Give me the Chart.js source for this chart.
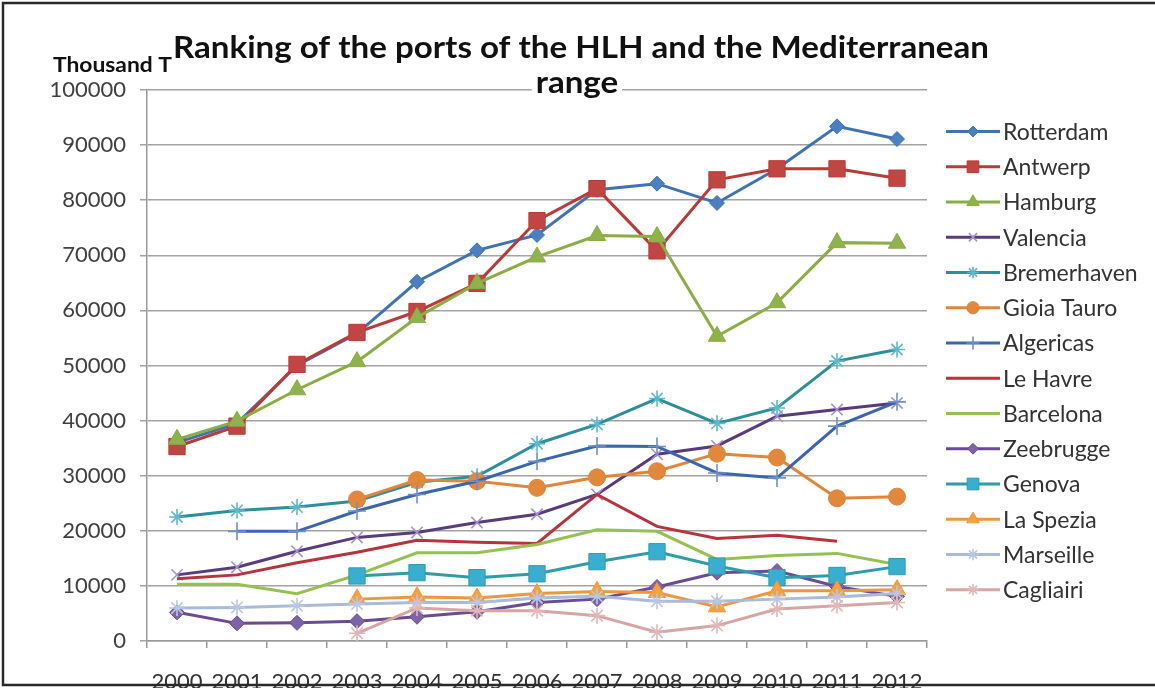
<!DOCTYPE html>
<html><head><meta charset="utf-8">
<script src="https://cdn.jsdelivr.net/npm/chart.js@4.4.0/dist/chart.umd.min.js"></script>
<style>html,body{margin:0;padding:0;background:#fff;overflow:hidden}#wrap{width:1155px;height:688px;position:relative}</style>
</head><body><div id="wrap"><canvas id="c" width="1155" height="688"></canvas></div>
<script>
// ---- data (thousand tonnes) ----
const years = ['2000','2001','2002','2003','2004','2005','2006','2007','2008','2009','2010','2011','2012'];
const yTickValues = [0,10000,20000,30000,40000,50000,60000,70000,80000,90000,100000];
const titleLines = ['Ranking of the ports of the HLH and the Mediterranean', 'range'];
const yAxisTitle = 'Thousand T';
const portNames = ['Rotterdam','Antwerp','Hamburg','Valencia','Bremerhaven','Gioia Tauro','Algericas','Le Havre','Barcelona','Zeebrugge','Genova','La Spezia','Marseille','Cagliairi'];

const rotterdam   = [36000, 39500, 50000, 55800, 65200, 70900, 73700, 81900, 83000, 79500, 85700, 93400, 91100];
const antwerp     = [35300, 39000, 50200, 56000, 59800, 64900, 76300, 82100, 70800, 83700, 85700, 85700, 84000];
const hamburg     = [36600, 39900, 45600, 50700, 58700, 64900, 69700, 73600, 73400, 55300, 61400, 72300, 72200];
const valencia    = [12000, 13400, 16300, 18800, 19700, 21500, 23000, 26600, 33900, 35400, 40800, 42000, 43200];
const bremerhaven = [22500, 23700, 24300, 25400, 28800, 29900, 35800, 39300, 44000, 39500, 42300, 50800, 52900];
const gioiaTauro  = [null, null, null, 25700, 29200, 29000, 27800, 29700, 30800, 34000, 33300, 25900, 26200];
const algericas   = [null, 19900, 19900, 23600, 26600, 29000, 32600, 35400, 35300, 30500, 29600, 39000, 43400];
const leHavre     = [11300, 12000, 14200, 16100, 18300, 17900, 17700, 26600, 20800, 18600, 19200, 18100, null];
const barcelona   = [10300, 10300, 8600, 12000, 16000, 16000, 17500, 20200, 19900, 14800, 15500, 15900, 13900];
const zeebrugge   = [5200, 3200, 3300, 3600, 4400, 5300, 7000, 7600, 9800, 12400, 12700, 9900, 8100];
const genova      = [null, null, null, 11800, 12400, 11500, 12200, 14400, 16200, 13600, 11500, 11900, 13500];
const laSpezia    = [null, null, null, 7600, 8000, 7800, 8600, 9000, 8800, 6200, 9100, 9100, 9300];
const marseille   = [6000, 6100, 6400, 6700, 7000, 7000, 7800, 8100, 7200, 7200, 7600, 8000, 8600];
const cagliairi   = [null, null, null, 1400, 6000, 5500, 5500, 4600, 1600, 2800, 5800, 6400, 7000];

const seriesValues = [rotterdam, antwerp, hamburg, valencia, bremerhaven, gioiaTauro, algericas, leHavre, barcelona, zeebrugge, genova, laSpezia, marseille, cagliairi];

// ---- styles ----
const styles = [
  {line:'#4073b4', fill:'#4a7fc0', marker:'rectRot',  r:7.5},
  {line:'#b93a37', fill:'#bf4643', marker:'rect',     r:11.5},
  {line:'#8aad44', fill:'#8fb34c', marker:'triangle', r:10},
  {line:'#583c7e', fill:'#a692c9', marker:'crossRot', r:8},
  {line:'#2e8f9c', fill:'#5cb8cc', marker:'star',     r:8},
  {line:'#e2853c', fill:'#e2883d', marker:'circle',   r:8.5},
  {line:'#3a66b0', fill:'#6f90c9', marker:'cross',    r:9},
  {line:'#b9323c', fill:'#b9323c', marker:false,      r:0},
  {line:'#94c251', fill:'#94c251', marker:false,      r:0},
  {line:'#6b4b94', fill:'#7d63a8', marker:'rectRot',  r:7.5},
  {line:'#2f9caa', fill:'#3aaed0', marker:'rect',     r:11.5},
  {line:'#f0973c', fill:'#f6a13f', marker:'triangle', r:10},
  {line:'#a9badc', fill:'#b9c7e5', marker:'star',     r:8},
  {line:'#d9a4a4', fill:'#e4b6b6', marker:'star',     r:8}
];

const FONT = 'Lato, "Open Sans", "DejaVu Sans", sans-serif';
const N = portNames.length;

const datasets = portNames.map((name, i) => {
  const s = styles[i];
  const thin = (s.marker === 'crossRot' || s.marker === 'star' || s.marker === 'cross');
  return {
    label: name,
    data: seriesValues[i],
    borderColor: s.line,
    backgroundColor: s.fill,
    borderWidth: 3,
    tension: 0,
    spanGaps: false,
    pointStyle: s.marker,
    pointRadius: s.r,
    pointHoverRadius: s.r,
    pointBackgroundColor: s.fill,
    pointBorderColor: thin ? s.fill : s.line,
    pointBorderWidth: thin ? 1.6 : 1,
    order: N - i
  };
});

// draw text horizontally scaled
function scaledText(ctx, text, size, weight, cx, y, scaleX, align) {
  ctx.save();
  ctx.font = weight + ' ' + size + 'px ' + FONT;
  ctx.textAlign = align;
  ctx.translate(cx, y);
  ctx.scale(scaleX, 1);
  ctx.fillText(text, 0, 0);
  ctx.restore();
}
function widthAt(ctx, text, size, weight) {
  ctx.save();
  ctx.font = weight + ' ' + size + 'px ' + FONT;
  const w = ctx.measureText(text).width;
  ctx.restore();
  return w;
}

const decor = {
  id: 'decor',
  beforeDraw(chart) {
    const ctx = chart.ctx;
    ctx.save();
    ctx.fillStyle = '#ffffff';
    ctx.fillRect(0, 0, chart.width, chart.height);
    ctx.restore();
  },
  afterDraw(chart) {
    const ctx = chart.ctx;
    ctx.save();
    ctx.textBaseline = 'alphabetic';
    // title
    const tSize = 30;
    const w1 = widthAt(ctx, titleLines[0], tSize, 'bold');
    const sx = w1 > 0 ? 816 / w1 : 1;
    ctx.fillStyle = '#111111';
    scaledText(ctx, titleLines[0], tSize, 'bold', 581, 58, sx, 'center');
    const rw = widthAt(ctx, titleLines[1], tSize, 'bold') * sx;
    ctx.fillStyle = '#ffffff';
    ctx.fillRect(577 - rw / 2 - 4, 76, rw + 8, 26);
    ctx.fillStyle = '#111111';
    scaledText(ctx, titleLines[1], tSize, 'bold', 577, 93, sx, 'center');
    // y axis title
    const aSize = 21;
    const wa = widthAt(ctx, yAxisTitle, aSize, 'bold');
    const sa = wa > 0 ? 119 / wa : 1;
    scaledText(ctx, yAxisTitle, aSize, 'bold', 53, 72, sa, 'left');
    // legend
    const lx0 = 946, lx1 = 1000, lmx = 973, ltx = 1003, ly0 = 131.5, ldy = 35.25;
    ctx.font = '23px ' + FONT;
    ctx.textBaseline = 'middle';
    chart.data.datasets.forEach((ds, i) => {
      const y = ly0 + i * ldy;
      ctx.strokeStyle = ds.borderColor;
      ctx.lineWidth = 3;
      ctx.beginPath(); ctx.moveTo(lx0, y); ctx.lineTo(lx1, y); ctx.stroke();
      if (ds.pointStyle) {
        ctx.fillStyle = ds.pointBackgroundColor;
        ctx.strokeStyle = ds.pointBorderColor;
        ctx.lineWidth = ds.pointBorderWidth;
        const opts = {pointStyle: ds.pointStyle, radius: ds.pointRadius * 0.72, borderWidth: ds.pointBorderWidth, rotation: 0};
        if (Chart.helpers && Chart.helpers.drawPoint) Chart.helpers.drawPoint(ctx, opts, lmx, y);
      }
      ctx.fillStyle = '#333333';
      ctx.textAlign = 'left';
      ctx.fillText(ds.label, ltx, y + 1);
    });
    // frame: left, top, bottom
    ctx.strokeStyle = '#2a2a2a';
    ctx.lineWidth = 2.5;
    ctx.beginPath();
    ctx.moveTo(1160, 3); ctx.lineTo(3, 3); ctx.lineTo(3, 685); ctx.lineTo(1160, 685);
    ctx.stroke();
    ctx.restore();
  }
};

new Chart(document.getElementById('c'), {
  type: 'line',
  data: { labels: years, datasets: datasets },
  plugins: [decor],
  options: {
    responsive: false,
    animation: false,
    devicePixelRatio: 1,
    layout: { padding: { left: 0, top: 90, right: 228, bottom: 0 } },
    plugins: { legend: { display: false }, title: { display: false }, tooltip: { enabled: false } },
    events: [],
    scales: {
      x: {
        type: 'category',
        offset: true,
        grid: { display: true, drawOnChartArea: false, drawTicks: true, tickLength: 7, offset: true, color: '#9a9a9a', lineWidth: 1.5 },
        border: { display: true, color: '#9a9a9a', width: 1.5 },
        ticks: { font: { family: FONT, size: 22 }, color: '#333333', padding: 21, maxRotation: 0, autoSkip: false },
        afterFit: (s) => { s.height = 47; }
      },
      y: {
        min: 0, max: 100000,
        afterBuildTicks: (s) => { s.ticks = yTickValues.map(v => ({ value: v })); },
        grid: { color: '#a3a3a3', lineWidth: 1.5, drawTicks: true, tickLength: 7 },
        border: { display: true, color: '#9a9a9a', width: 1.5 },
        ticks: { font: { family: FONT, size: 22 }, color: '#404040', padding: 14, callback: (v) => String(v) },
        afterFit: (s) => { s.width = 147; }
      }
    }
  }
});
</script>
</body></html>
